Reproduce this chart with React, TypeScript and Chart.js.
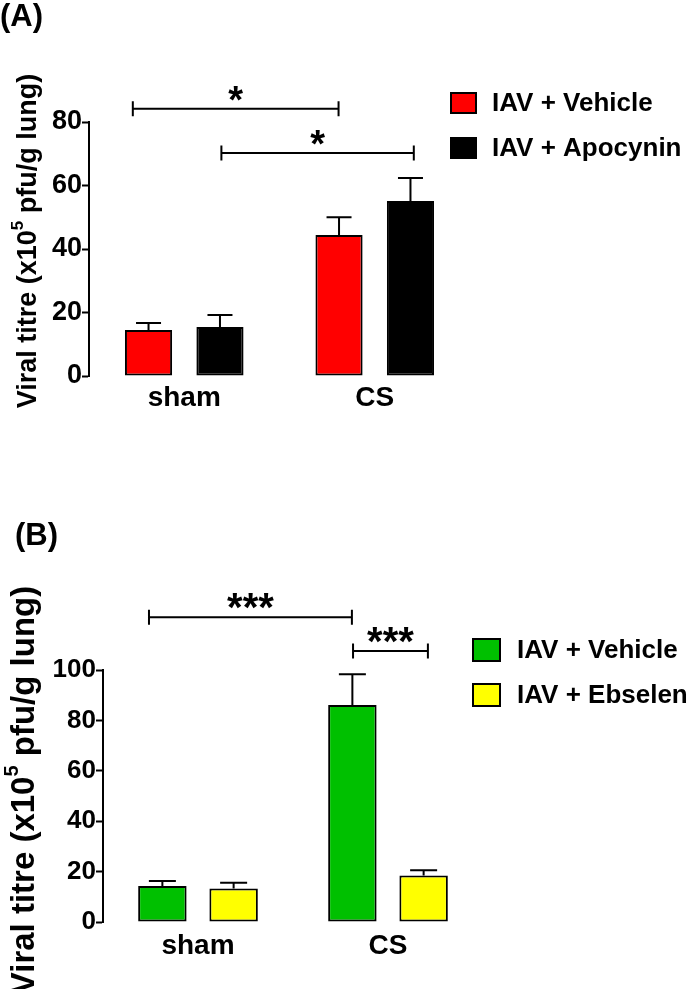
import React, { useEffect, useRef } from 'react';
import { Chart, registerables } from 'chart.js';

Chart.register(...registerables);

const FONT = "'Liberation Sans', Arial, sans-serif";

// ---------- data ----------
const categories = ['sham', 'CS'];

const labelsA = ['IAV + Vehicle', 'IAV + Apocynin'];
const vehicleA = [14.5, 44.4];
const vehicleAErr = [2.2, 5.6];
const apocyninA = [15.4, 55.1];
const apocyninAErr = [3.8, 7.3];
const yTicksA = [0, 20, 40, 60, 80];

const labelsB = ['IAV + Vehicle', 'IAV + Ebselen'];
const vehicleB = [14.3, 86.1];
const vehicleBErr = [2.0, 12.2];
const ebselenB = [13.3, 18.5];
const ebselenBErr = [2.3, 2.0];
const yTicksB = [0, 20, 40, 60, 80, 100];

// significance brackets: x in category units, y in data units
const bracketsA = [
  { x1: -0.27, x2: 0.81, y: 84.2, label: '*' },
  { x1: 0.195, x2: 1.205, y: 70.2, label: '*' },
];
const bracketsB = [
  { x1: -0.258, x2: 0.81, y: 120.9, label: '***' },
  { x1: 0.816, x2: 1.21, y: 107.5, label: '***' },
];

const yTitleMain = 'Viral titre (x10';
const yTitleSup = '5';
const yTitleEnd = ' pfu/g lung)';

// ---------- plugin ----------
function makeFigPlugin(cfg: any) {
  return {
    id: 'fig_' + cfg.key,
    afterDatasetsDraw(chart: any) {
      const ctx = chart.ctx;
      const ys = chart.scales.y;
      const xs = chart.scales.x;
      ctx.save();
      ctx.strokeStyle = '#000';
      ctx.lineWidth = 2;
      // error bars (upper only)
      cfg.errors.forEach((errs: number[], d: number) => {
        const meta = chart.getDatasetMeta(d);
        meta.data.forEach((bar: any, i: number) => {
          const v = chart.data.datasets[d].data[i];
          const y0 = ys.getPixelForValue(v);
          const y1 = ys.getPixelForValue(v + errs[i]);
          ctx.beginPath();
          ctx.moveTo(bar.x, y0);
          ctx.lineTo(bar.x, y1);
          ctx.moveTo(bar.x - cfg.capW / 2, y1);
          ctx.lineTo(bar.x + cfg.capW / 2, y1);
          ctx.stroke();
        });
      });
      // brackets
      cfg.brackets.forEach((b: any) => {
        const x1 = xs.getPixelForValue(b.x1);
        const x2 = xs.getPixelForValue(b.x2);
        const yp = ys.getPixelForValue(b.y);
        ctx.beginPath();
        ctx.moveTo(x1, yp);
        ctx.lineTo(x2, yp);
        ctx.moveTo(x1, yp - 7.5);
        ctx.lineTo(x1, yp + 7.5);
        ctx.moveTo(x2, yp - 7.5);
        ctx.lineTo(x2, yp + 7.5);
        ctx.stroke();
        ctx.fillStyle = '#000';
        ctx.font = `bold ${cfg.starSize}px ${FONT}`;
        ctx.textAlign = 'center';
        ctx.textBaseline = 'alphabetic';
        ctx.fillText(b.label, (x1 + x2) / 2, yp + cfg.starBase);
      });
      ctx.restore();
    },
    afterDraw(chart: any) {
      const ctx = chart.ctx;
      ctx.save();
      // legend
      const lg = cfg.legend;
      chart.data.datasets.forEach((ds: any, i: number) => {
        const top = lg.y + i * lg.gap;
        ctx.fillStyle = ds.backgroundColor;
        ctx.fillRect(lg.x, top, lg.boxW, lg.boxH);
        ctx.strokeStyle = '#000';
        ctx.lineWidth = 2;
        ctx.strokeRect(lg.x + 1, top + 1, lg.boxW - 2, lg.boxH - 2);
        ctx.fillStyle = '#000';
        ctx.font = `${lg.weight} ${lg.size}px ${FONT}`;
        ctx.textAlign = 'left';
        ctx.textBaseline = 'middle';
        ctx.fillText(ds.label, lg.x + lg.boxW + lg.textGap, top + lg.boxH / 2 + 1);
      });
      // rotated y title with superscript
      const t = cfg.title;
      ctx.translate(t.x, t.cy);
      ctx.rotate(-Math.PI / 2);
      ctx.fillStyle = '#000';
      ctx.textBaseline = 'middle';
      ctx.textAlign = 'left';
      const mainFont = `bold ${t.size}px ${FONT}`;
      const supFont = `bold ${Math.round(t.size * 0.62)}px ${FONT}`;
      ctx.font = mainFont;
      const w1 = ctx.measureText(yTitleMain).width;
      const w3 = ctx.measureText(yTitleEnd).width;
      ctx.font = supFont;
      const w2 = ctx.measureText(yTitleSup).width;
      let x0 = -(w1 + w2 + w3) / 2;
      ctx.font = mainFont;
      ctx.fillText(yTitleMain, x0, 0);
      x0 += w1;
      ctx.font = supFont;
      ctx.fillText(yTitleSup, x0, -t.size * 0.38);
      x0 += w2;
      ctx.font = mainFont;
      ctx.fillText(yTitleEnd, x0, 0);
      ctx.restore();
    },
  };
}

function makeConfig(p: any) {
  return {
    type: 'bar' as const,
    data: {
      labels: categories,
      datasets: p.series.map((s: any) => ({
        label: s.label,
        data: s.data,
        backgroundColor: s.color,
        borderColor: '#000',
        borderWidth: 2,
        borderSkipped: false,
        categoryPercentage: p.catPct,
        barPercentage: p.barPct,
      })),
    },
    options: {
      responsive: false,
      animation: false as const,
      devicePixelRatio: 1,
      layout: { padding: p.padding },
      plugins: { legend: { display: false }, tooltip: { enabled: false } },
      scales: {
        x: {
          grid: { display: false },
          border: { display: false },
          ticks: { color: '#000', font: { family: FONT, size: p.xFont, weight: 'bold' }, padding: p.xPad },
          afterFit: (s: any) => { s.height = 40; },
        },
        y: {
          min: p.ticks[0],
          max: p.ticks[p.ticks.length - 1],
          afterBuildTicks: (s: any) => { s.ticks = p.ticks.map((v: number) => ({ value: v })); },
          grid: { display: true, drawOnChartArea: false, drawTicks: true, tickLength: 7, tickWidth: 2, tickColor: '#000', color: '#000' },
          border: { display: true, color: '#000', width: 2 },
          ticks: { color: '#000', font: { family: FONT, size: p.yFont, weight: 'bold' }, padding: 0 },
          afterFit: (s: any) => { s.width = p.yWidth; },
        },
      },
    },
    plugins: [makeFigPlugin(p.fig)],
  };
}

function Panel(props: { cfg: any; top: number; height: number }) {
  const ref = useRef<HTMLCanvasElement>(null);
  useEffect(() => {
    if (!ref.current) return;
    const chart = new Chart(ref.current, makeConfig(props.cfg) as any);
    return () => chart.destroy();
  }, []);
  return (
    <canvas
      ref={ref}
      width={700}
      height={props.height}
      style={{ position: 'absolute', left: 0, top: props.top, width: 700, height: props.height }}
    />
  );
}

const panelA = {
  series: [
    { label: labelsA[0], data: vehicleA, color: '#ff0000' },
    { label: labelsA[1], data: apocyninA, color: '#000000' },
  ],
  catPct: 0.75,
  barPct: 0.66,
  padding: { left: 0, top: 122, right: 230, bottom: 54 },
  xFont: 28,
  xPad: -3,
  yFont: 27,
  yWidth: 89,
  ticks: yTicksA,
  fig: {
    key: 'A',
    errors: [vehicleAErr, apocyninAErr],
    capW: 25,
    brackets: bracketsA,
    starSize: 38,
    starBase: 4,
    legend: { x: 450, y: 92, gap: 45, boxW: 27, boxH: 22, textGap: 15, size: 26, weight: 'bold' },
    title: { x: 29, cy: 241, size: 27 },
  },
};

const panelB = {
  series: [
    { label: labelsB[0], data: vehicleB, color: '#00c000' },
    { label: labelsB[1], data: ebselenB, color: '#ffff00' },
  ],
  catPct: 0.75,
  barPct: 0.68,
  padding: { left: 0, top: 190, right: 217, bottom: 27 },
  xFont: 28,
  xPad: -1,
  yFont: 26,
  yWidth: 103,
  ticks: yTicksB,
  fig: {
    key: 'B',
    errors: [vehicleBErr, ebselenBErr],
    capW: 27,
    brackets: bracketsB,
    starSize: 40,
    starBase: 4,
    legend: { x: 472, y: 158, gap: 45, boxW: 29, boxH: 24, textGap: 16, size: 26, weight: 'bold' },
    title: { x: 25, cy: 310, size: 33 },
  },
};

export default function App() {
  const label: React.CSSProperties = {
    position: 'absolute',
    fontFamily: FONT,
    fontWeight: 'bold',
    fontSize: 31,
    lineHeight: '31px',
    color: '#000',
    margin: 0,
  };
  return (
    <div style={{ position: 'absolute', left: 0, top: 0, width: 700, height: 989, background: '#fff', overflow: 'hidden' }}>
      <Panel cfg={panelA} top={0} height={470} />
      <Panel cfg={panelB} top={480} height={509} />
      <div style={{ ...label, left: 0, top: 0 }}>(A)</div>
      <div style={{ ...label, left: 15, top: 519 }}>(B)</div>
    </div>
  );
}
